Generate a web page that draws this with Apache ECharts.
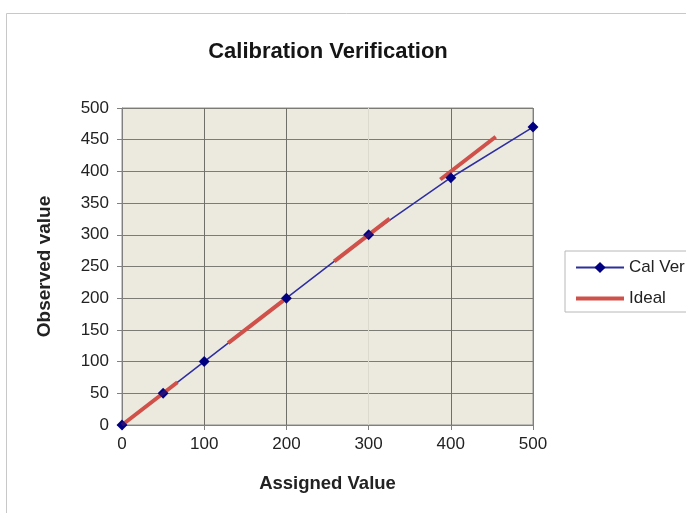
<!DOCTYPE html>
<html>
<head>
<meta charset="utf-8">
<script src="https://cdn.jsdelivr.net/npm/echarts@6/dist/echarts.min.js"></script>
<style>
html,body{margin:0;padding:0;background:#fff;}
#chart{width:686px;height:513px;}
</style>
</head>
<body>
<div id="chart"></div>
<script>
var titleText = 'Calibration Verification';
var xName = 'Assigned Value';
var yName = 'Observed value';
var calName = 'Cal Ver';
var idealName = 'Ideal';
var assigned = [0, 50, 100, 200, 300, 400, 500];
var observed = [0, 50, 100, 200, 300, 390, 470];
var idealX = [0, 500];
var idealY = [0, 500];

var calData = assigned.map(function (v, i) { return [v, observed[i]]; });
var idealData = idealX.map(function (v, i) { return [v, idealY[i]]; });

var font = 'Liberation Sans, Arial, sans-serif';
var chart = echarts.init(document.getElementById('chart'));
chart.setOption({
  animation: false,
  backgroundColor: '#ffffff',
  graphic: [{
    type: 'rect',
    shape: { x: 6.5, y: 13.5, width: 720, height: 540 },
    style: { fill: 'none', stroke: '#c8c8c8', lineWidth: 1 },
    z: -10
  }],
  title: {
    text: titleText,
    left: 323, top: 36, textAlign: 'center',
    textStyle: { fontFamily: font, fontSize: 22, fontWeight: 'bold', color: '#151515' }
  },
  legend: {
    left: 565, top: 251,
    orient: 'vertical',
    padding: [8, 20, 5, 9],
    itemWidth: 48, itemHeight: 14, itemGap: 14,
    borderColor: '#b8b8b8', borderWidth: 1, borderRadius: 0,
    backgroundColor: '#fff',
    textStyle: { fontFamily: font, fontSize: 17, color: '#222' },
    data: [
      { name: calName },
      { name: idealName, lineStyle: { type: 'solid', width: 4 }, itemStyle: { opacity: 0 } }
    ]
  },
  grid: {
    left: 122, top: 108, width: 411, height: 317,
    show: true, backgroundColor: '#ECE9DF', borderColor: '#8f8f8f', borderWidth: 1
  },
  xAxis: {
    type: 'value', min: 0, max: 500, interval: 100,
    name: xName, nameLocation: 'middle', nameGap: 49,
    nameTextStyle: { fontFamily: font, fontSize: 18.5, fontWeight: 'bold', color: '#222' },
    axisLine: { show: true, lineStyle: { color: '#808080', width: 1 } },
    axisTick: { show: true, length: 5, lineStyle: { color: '#808080' } },
    axisLabel: { margin: 11, fontFamily: font, fontSize: 17, color: '#222' },
    splitLine: { show: true, lineStyle: { color: ['#808078', '#707068', '#707068', '#dcd9cf', '#707068', '#808078'], width: 1 } }
  },
  yAxis: {
    type: 'value', min: 0, max: 500, interval: 50,
    name: yName, nameLocation: 'middle', nameGap: 68,
    nameTextStyle: { fontFamily: font, fontSize: 19, fontWeight: 'bold', color: '#222' },
    axisLine: { show: true, lineStyle: { color: '#808080', width: 1 } },
    axisTick: { show: true, length: 5, lineStyle: { color: '#808080' } },
    axisLabel: { margin: 13, fontFamily: font, fontSize: 17, color: '#222' },
    splitLine: { show: true, lineStyle: { color: '#7c7c74', width: 1 } }
  },
  series: [
    {
      name: calName, type: 'line', data: calData,
      symbol: 'diamond', symbolSize: 10, z: 2,
      lineStyle: { color: '#2E2EA0', width: 1.5 },
      itemStyle: { color: '#000080' }
    },
    {
      name: idealName, type: 'line', data: idealData,
      symbol: 'none', z: 3,
      lineStyle: { color: '#D0504A', width: 4, type: [70, 64], cap: 'butt' },
      itemStyle: { color: '#D0504A' }
    },
    {
      name: calName, type: 'scatter', data: calData,
      symbol: 'diamond', symbolSize: 11, z: 4,
      itemStyle: { color: '#000080' }
    }
  ]
});
</script>
</body>
</html>
